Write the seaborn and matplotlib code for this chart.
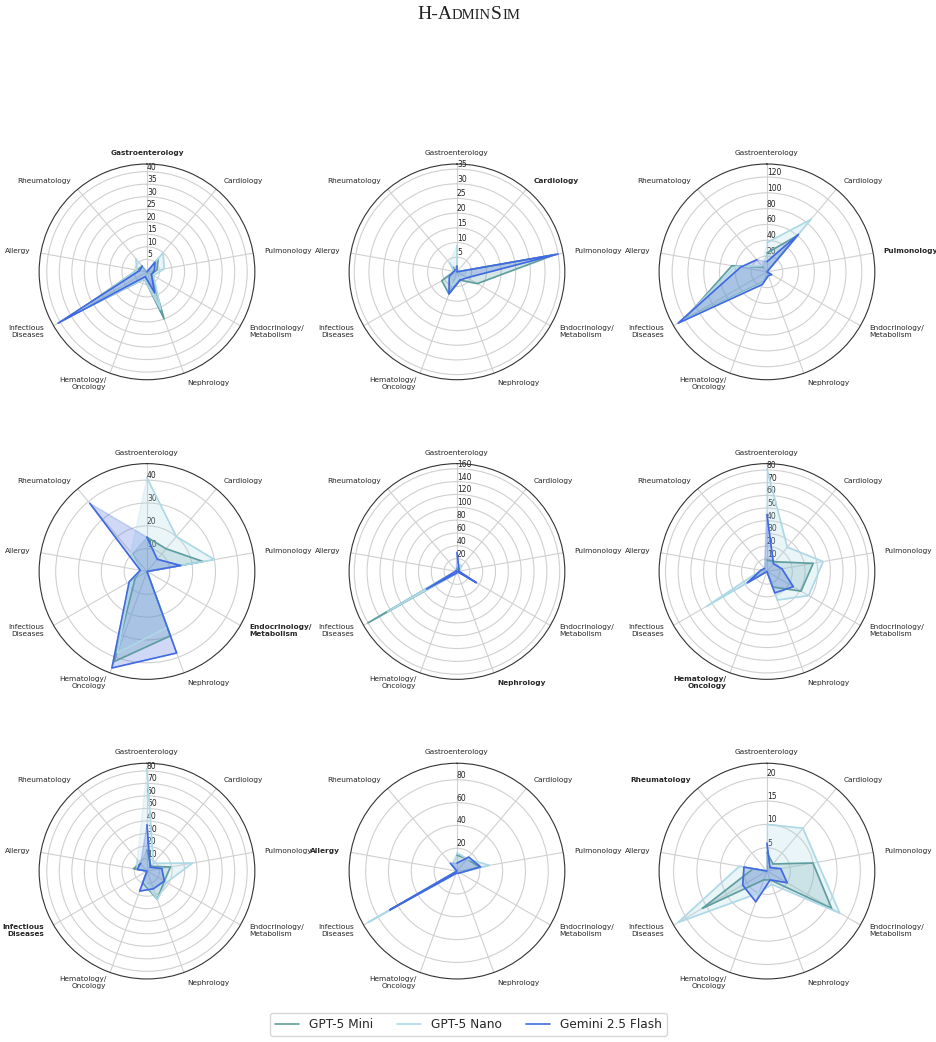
import numpy as np
import matplotlib
matplotlib.use("Agg")
import matplotlib.pyplot as plt
from matplotlib.ticker import MaxNLocator
import seaborn as sns

# departamentos (eixos do radar), na ordem horaria a partir do topo
departments = ["Gastroenterology", "Cardiology", "Pulmonology",
               "Endocrinology/\nMetabolism", "Nephrology", "Hematology/\nOncology",
               "Infectious\nDiseases", "Allergy", "Rheumatology"]
models = ["GPT-5 Mini", "GPT-5 Nano", "Gemini 2.5 Flash"]
colors = ["cadetblue", "lightblue", "royalblue"]

# uma linha por departamento verdadeiro (um radar cada), colunas = departamento previsto
gpt5_mini = [
    [0, 7, 4, 2, 20, 3, 35, 4, 3],
    [2, 0, 34, 8, 3, 8, 6, 1, 2],
    [24, 60, 0, 4, 5, 14, 122, 45, 8],
    [15, 13, 25, 0, 30, 42, 6, 3, 10],
    [5, 3, 2, 4, 0, 3, 160, 2, 2],
    [9, 10, 37, 31, 13, 0, 17, 5, 3],
    [17, 5, 19, 16, 24, 10, 0, 11, 8],
    [14, 14, 20, 3, 2, 2, 66, 0, 7],
    [4, 2, 10, 16, 2, 2, 16, 3, 0],
]
gpt5_nano = [
    [0, 10, 7, 3, 16, 3, 32, 4, 7],
    [9, 0, 4, 4, 2, 5, 3, 1, 4],
    [37, 87, 0, 5, 5, 15, 126, 40, 10],
    [41, 20, 30, 0, 26, 38, 8, 3, 11],
    [10, 12, 4, 6, 0, 3, 125, 2, 2],
    [81, 25, 45, 38, 24, 0, 55, 5, 3],
    [82, 8, 37, 18, 24, 8, 0, 8, 12],
    [16, 14, 29, 3, 2, 2, 90, 0, 8],
    [10, 12, 11, 18, 3, 5, 22, 6, 0],
]
gemini_flash = [
    [0, 5, 3, 2, 9, 2, 41, 3, 3],
    [2, 0, 35, 4, 3, 8, 3, 1, 1],
    [13, 62, 0, 7, 5, 17, 130, 34, 20],
    [15, 7, 15, 0, 38, 45, 9, 3, 39],
    [30, 5, 3, 35, 0, 3, 55, 2, 2],
    [45, 8, 12, 24, 18, 0, 18, 5, 3],
    [37, 4, 12, 16, 15, 17, 0, 8, 8],
    [7, 16, 21, 3, 2, 2, 68, 0, 9],
    [6, 1, 3, 5, 2, 7, 6, 5, 0],
]

sns.set_style("white")

fig, axes = plt.subplots(3, 3, figsize=(9.37, 10.42), dpi=100,
                         subplot_kw={"projection": "polar"})
fig.subplots_adjust(left=0.0416, right=0.9338, bottom=0.0605, top=0.8426,
                    wspace=0.435, hspace=0.389)

n = len(departments)
angles = np.linspace(0, 2 * np.pi, n, endpoint=False)
theta = np.append(angles, angles[0])

for i, ax in enumerate(axes.flat):
    ax.set_theta_offset(np.pi / 2)
    ax.set_theta_direction(-1)
    series = [gpt5_mini[i], gpt5_nano[i], gemini_flash[i]]
    for vals, name, col in zip(series, models, colors):
        r = np.append(vals, vals[0])
        sns.lineplot(x=theta, y=r, ax=ax, color=col, linewidth=1.2, sort=False, label=name)
        ax.fill(theta, r, color=col, alpha=0.25)
    ax.get_legend().remove()

    top = max(max(s) for s in series) * 1.05
    ax.set_ylim(0, top)
    loc = MaxNLocator(nbins=9, steps=[1, 2, 5, 10])
    ticks = [t for t in loc.tick_values(0, top) if 0 < t <= top]
    ax.set_yticks(ticks)
    ax.set_yticklabels([f"{t:g}" for t in ticks])
    ax.set_rlabel_position(0)
    ax.tick_params(axis="y", labelsize=5.5, labelcolor="#222222")
    ax.set_xlabel("")
    ax.set_ylabel("")

    ax.set_xticks(angles)
    ax.set_xticklabels([])
    ax.grid(True, color="#d0d0d0", linewidth=0.8)
    ax.spines["polar"].set_color("#333333")
    ax.spines["polar"].set_linewidth(0.8)

    # nomes dos departamentos, o verdadeiro em negrito
    for j, lab in enumerate(departments):
        deg = j * 360 / n
        if deg == 0 or deg == 180:
            ha = "center"
        elif deg < 180:
            ha = "left"
        else:
            ha = "right"
        ax.text(angles[j], 1.1, lab, transform=ax.get_xaxis_transform(),
                ha=ha, va="center", fontsize=5.3,
                fontweight="bold" if j == i else "normal")

# titulo em versalete (imitado com tamanhos diferentes)
title_parts = [("H-A", 14), ("DMIN", 10.5), ("S", 14), ("IM", 10.5)]
renderer = fig.canvas.get_renderer()
pieces = []
x = 0.0
for s, fs in title_parts:
    t = fig.text(0, 0.9818, s, fontsize=fs, family="Liberation Serif",
                 ha="left", va="baseline", color="#222222")
    w = t.get_window_extent(renderer).width / fig.bbox.width
    pieces.append((t, x))
    x += w
start = 0.5 - x / 2
for t, off in pieces:
    t.set_x(start + off)

handles, labels = axes.flat[0].get_legend_handles_labels()
fig.legend(handles[:3], models, loc="center", bbox_to_anchor=(0.5, 0.017),
           ncol=3, fontsize=8.7, frameon=True)

plt.savefig("out.png", dpi=100)
